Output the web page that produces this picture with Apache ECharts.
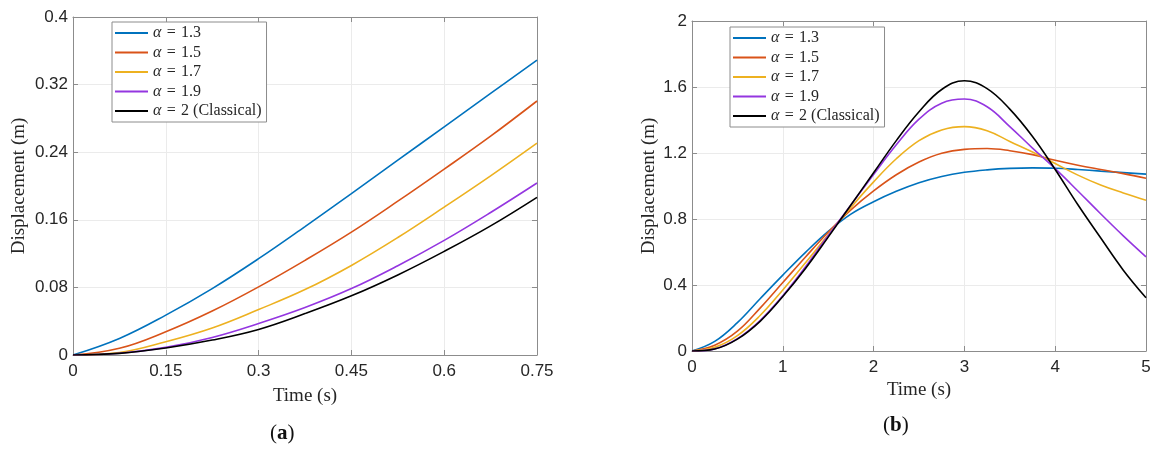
<!DOCTYPE html>
<html>
<head>
<meta charset="utf-8">
<script src="https://cdn.jsdelivr.net/npm/echarts@6/dist/echarts.min.js"></script>
<style>
html, body { margin: 0; padding: 0; background: #fff; }
#main { width: 1158px; height: 452px; }
</style>
</head>
<body>
<div id="main"></div>
<script>
// legend names
var names = ['α = 1.3', 'α = 1.5', 'α = 1.7', 'α = 1.9', 'α = 2 (Classical)'];
var colors = ['#0072BD', '#D95319', '#EDB120', '#9436E0', '#000000'];

// (a) short time
var timeA = [0, 0.075, 0.15, 0.225, 0.3, 0.375, 0.45, 0.525, 0.6, 0.675, 0.75];
var a13 = [0, 0.0196, 0.0472, 0.0786, 0.114, 0.152, 0.191, 0.2306, 0.270, 0.3096, 0.349];
var a15 = [0, 0.0079, 0.0275, 0.052, 0.0806, 0.112, 0.1454, 0.182, 0.220, 0.259, 0.3006];
var a17 = [0, 0.003, 0.0157, 0.032, 0.0538, 0.0774, 0.106, 0.139, 0.175, 0.212, 0.2507];
var a19 = [0, 0.0021, 0.009, 0.0208, 0.0373, 0.0562, 0.0786, 0.1057, 0.1356, 0.1686, 0.2035];
var a20 = [0, 0.0019, 0.0083, 0.0177, 0.0303, 0.049, 0.070, 0.0947, 0.1226, 0.1528, 0.1866];

// (b) long time
var timeB = [0, 0.25, 0.5, 0.75, 1, 1.25, 1.5, 1.75, 2, 2.25, 2.5, 2.75, 3, 3.25, 3.5, 3.75, 4, 4.25, 4.5, 4.75, 5];
var b13 = [0, 0.058, 0.172, 0.317, 0.46, 0.598, 0.725, 0.83, 0.905, 0.968, 1.02, 1.058, 1.083, 1.098, 1.107, 1.11, 1.108, 1.10, 1.09, 1.081, 1.072];
var b15 = [0, 0.035, 0.12, 0.26, 0.415, 0.57, 0.72, 0.855, 0.97, 1.068, 1.145, 1.198, 1.222, 1.227, 1.214, 1.19, 1.156, 1.126, 1.10, 1.075, 1.047];
var b17 = [0, 0.022, 0.093, 0.215, 0.37, 0.535, 0.705, 0.87, 1.025, 1.165, 1.275, 1.34, 1.36, 1.335, 1.27, 1.206, 1.136, 1.066, 1.006, 0.958, 0.914];
var b19 = [0, 0.013, 0.075, 0.185, 0.335, 0.51, 0.70, 0.885, 1.07, 1.25, 1.405, 1.502, 1.527, 1.48, 1.36, 1.23, 1.105, 0.97, 0.832, 0.698, 0.571];
var b20 = [0, 0.012, 0.072, 0.18, 0.33, 0.50, 0.69, 0.885, 1.08, 1.275, 1.45, 1.585, 1.638, 1.59, 1.466, 1.30, 1.10, 0.886, 0.686, 0.49, 0.323];

var seriesA = [a13, a15, a17, a19, a20];
var seriesB = [b13, b15, b17, b19, b20];

var boxColor = '#8c8c8c';
var labelFont = 'Liberation Sans';
var serifFont = 'Liberation Serif';

function pairs(xs, ys) {
	return xs.map(function(x, i) { return [x, ys[i]]; });
}

function mainX(grid, max, interval, nameGap) {
	return {
		type: 'value', gridIndex: grid, min: 0, max: max, interval: interval,
		name: 'Time (s)', nameLocation: 'middle', nameGap: nameGap,
		nameTextStyle: { fontFamily: serifFont, fontSize: 19, color: '#262626' },
		axisLine: { show: true, lineStyle: { color: boxColor } },
		axisTick: { show: true, inside: true, length: 5, lineStyle: { color: boxColor } },
		axisLabel: { margin: 8, fontFamily: labelFont, fontSize: 17, color: '#262626' },
		splitLine: { show: true, lineStyle: { color: '#ebebeb' } }
	};
}

function mainY(grid, max, interval, nameGap) {
	return {
		type: 'value', gridIndex: grid, min: 0, max: max, interval: interval,
		name: 'Displacement (m)', nameLocation: 'middle', nameGap: nameGap,
		nameTextStyle: { fontFamily: serifFont, fontSize: 19, color: '#262626' },
		axisLine: { show: true, lineStyle: { color: boxColor } },
		axisTick: { show: true, inside: true, length: 5, lineStyle: { color: boxColor } },
		axisLabel: { margin: 5, fontFamily: labelFont, fontSize: 17, color: '#262626' },
		splitLine: { show: true, lineStyle: { color: '#ebebeb' } }
	};
}

// top / right axes only close the box and carry the inner ticks
function boxAxis(grid, pos, max, interval) {
	return {
		type: 'value', gridIndex: grid, position: pos, min: 0, max: max, interval: interval,
		axisLine: { show: true, onZero: false, lineStyle: { color: boxColor } },
		axisTick: { show: true, inside: true, length: 5, lineStyle: { color: boxColor } },
		axisLabel: { show: false },
		splitLine: { show: false }
	};
}

function legendAt(left, top) {
	return {
		data: names, orient: 'vertical', left: left, top: top,
		icon: 'rect', itemWidth: 33, itemHeight: 2, itemGap: 3.5,
		padding: [3, 5, 3, 3],
		borderColor: boxColor, borderWidth: 1, backgroundColor: '#fff',
		selectedMode: false,
		formatter: function(name) { return '{i|α}' + name.slice(1).replace(' = ', '\u2004=\u2004'); },
		textStyle: {
			fontFamily: serifFont, fontSize: 16, lineHeight: 16, color: '#262626',
			rich: { i: { fontFamily: serifFont, fontStyle: 'italic', fontSize: 16, lineHeight: 16, color: '#262626' } }
		}
	};
}

var series = [];
names.forEach(function(name, k) {
	series.push({
		name: name, type: 'line', xAxisIndex: 0, yAxisIndex: 0,
		data: pairs(timeA, seriesA[k]), smooth: 0.4, symbol: 'none',
		lineStyle: { color: colors[k], width: 1.6 }, itemStyle: { color: colors[k] }
	});
	series.push({
		name: name, type: 'line', xAxisIndex: 2, yAxisIndex: 2,
		data: pairs(timeB, seriesB[k]), smooth: 0.4, symbol: 'none',
		lineStyle: { color: colors[k], width: 1.6 }, itemStyle: { color: colors[k] }
	});
});

var option = {
	animation: false,
	backgroundColor: '#fff',
	grid: [
		{ left: 73, top: 17, width: 464, height: 338 },
		{ left: 692, top: 21, width: 454, height: 330 }
	],
	xAxis: [
		mainX(0, 0.75, 0.15, 32), boxAxis(0, 'top', 0.75, 0.15),
		mainX(1, 5, 1, 30), boxAxis(1, 'top', 5, 1)
	],
	yAxis: [
		mainY(0, 0.4, 0.08, 44), boxAxis(0, 'right', 0.4, 0.08),
		mainY(1, 2, 0.4, 33), boxAxis(1, 'right', 2, 0.4)
	],
	legend: [legendAt(112, 22), legendAt(730, 27)],
	graphic: [
		{ type: 'text', left: 270, top: 423, style: { text: '({b|a})', font: '21px ' + serifFont, fill: '#111',
			rich: { b: { fontFamily: serifFont, fontSize: 21, fontWeight: 'bold', fill: '#111' } } } },
		{ type: 'text', left: 883, top: 415, style: { text: '({b|b})', font: '21px ' + serifFont, fill: '#111',
			rich: { b: { fontFamily: serifFont, fontSize: 21, fontWeight: 'bold', fill: '#111' } } } }
	],
	series: series
};

var chart = echarts.init(document.getElementById('main'));
chart.setOption(option);
</script>
</body>
</html>
